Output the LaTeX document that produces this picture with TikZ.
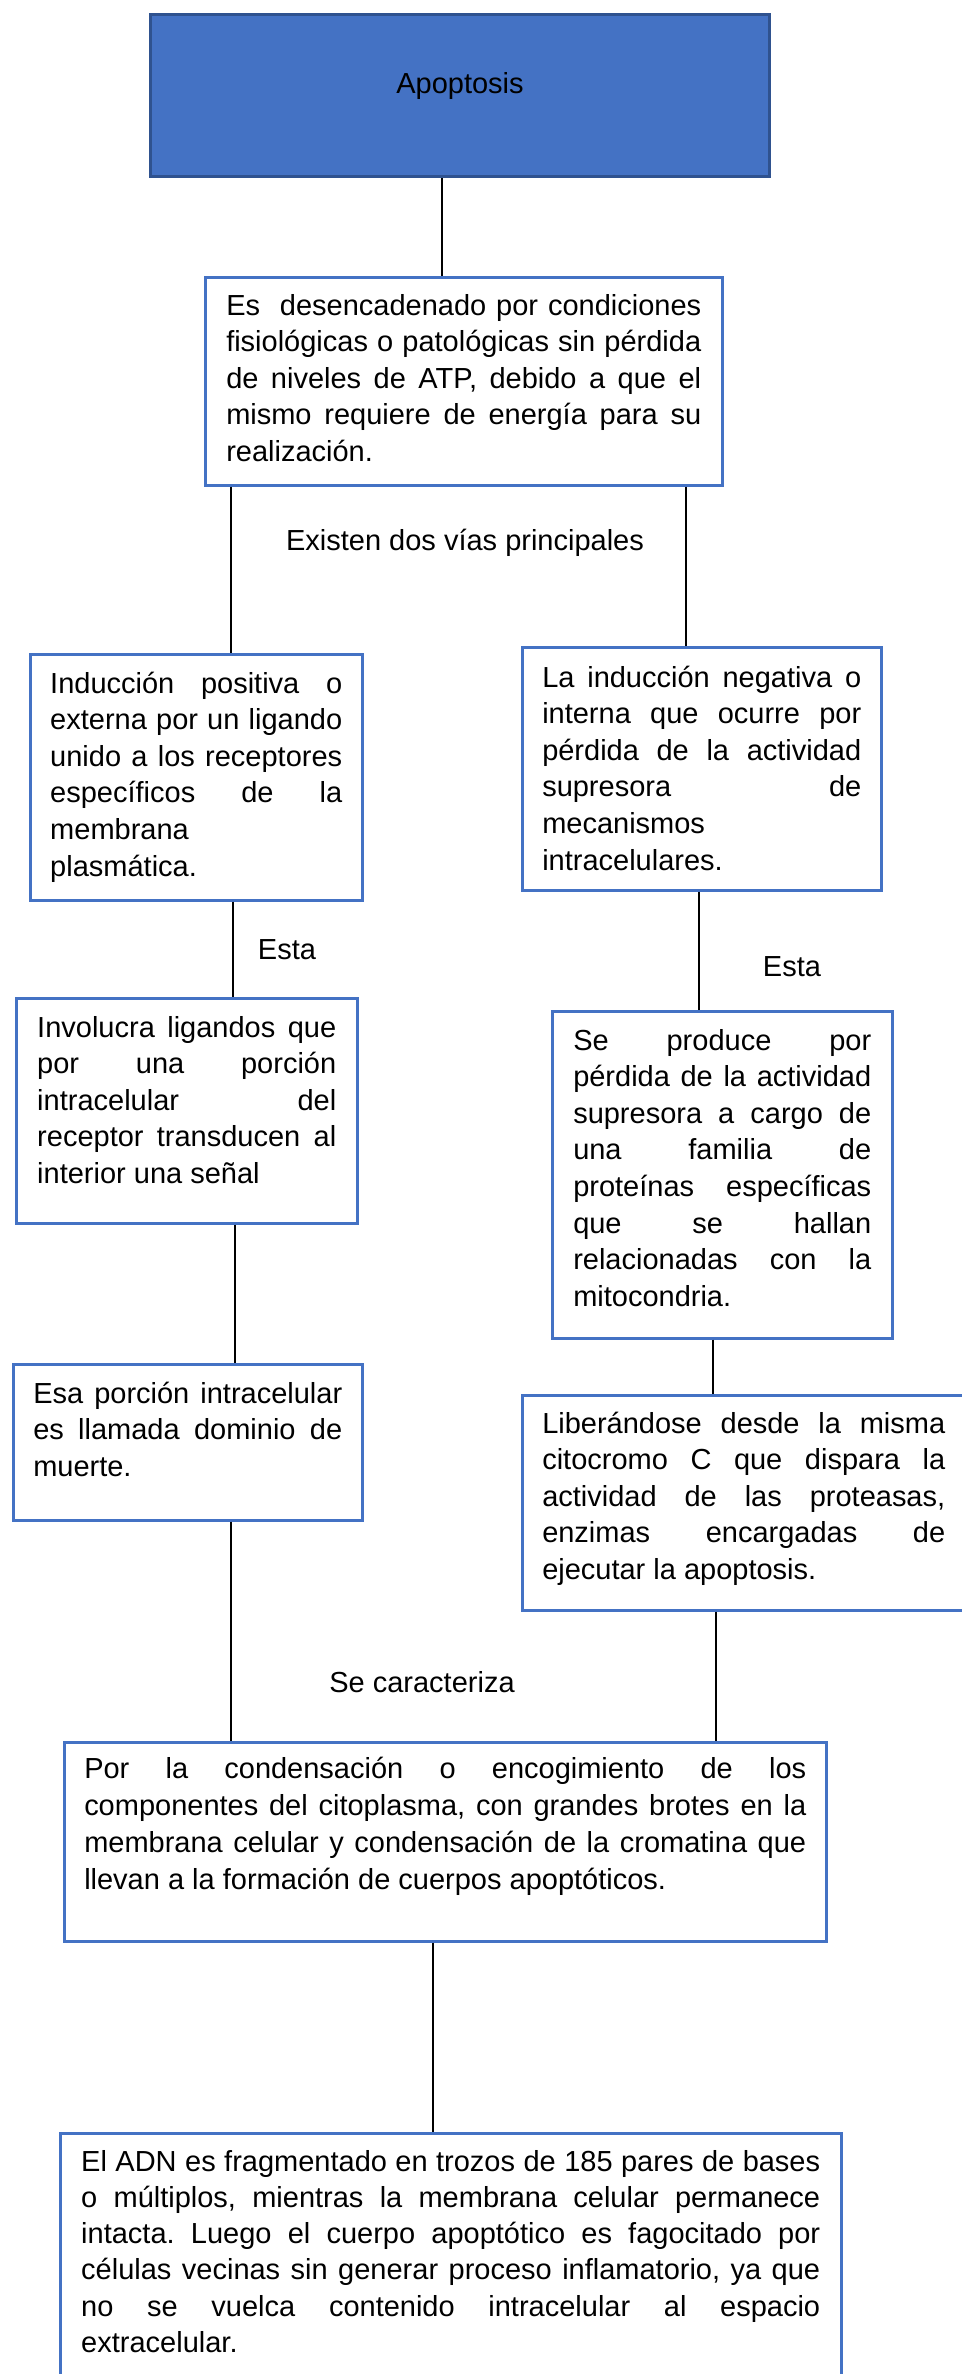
\documentclass[tikz,border=0pt]{standalone}
\usepackage{fontspec}
\setmainfont{Liberation Sans}
\frenchspacing
\definecolor{boxblue}{HTML}{4472C4}
\definecolor{boxedge}{HTML}{2F528F}
\begin{document}
\begin{tikzpicture}[
    connector/.style={draw, black, line width=0.03cm},
    titlebox/.style={rectangle, draw=boxedge, fill=boxblue, line width=0.06cm,
        inner xsep=0pt, inner ysep=0pt, align=center, anchor=north west,
        font=\fontsize{16.5}{20.8}\selectfont},
    infobox/.style={rectangle, draw=boxblue, line width=0.05cm,
        inner xsep=0.4cm, inner ysep=0pt, align=justify, anchor=north west,
        font=\fontsize{16.5}{20.8}\selectfont},
    linktext/.style={inner sep=0pt, font=\fontsize{16.5}{20.8}\selectfont}
]
\useasboundingbox (0,0) rectangle (19.22,-47.48);

\node (Apoptosis) [titlebox, text width=12.38cm, text height=1.58cm, text depth=1.66cm]
  at (2.98,-0.26) {Apoptosis};

\node (Causa) [infobox, inner xsep=0.42cm, text width=9.5cm, text height=0.76cm, text depth=3.4cm]
  at (4.08,-5.52) {Es\ \ desencadenado por condiciones\linebreak
  fisiológicas o patológicas sin pérdida\linebreak
  de niveles de ATP, debido a que el\linebreak
  mismo requiere de energía para su\linebreak
  realización.};

\node (Vias) [linktext] at (9.3,-10.86) {Existen dos vías principales};

\node (Induccion01) [infobox, text width=5.84cm, text height=0.78cm, text depth=4.14cm]
  at (0.58,-13.06) {Inducción positiva o\linebreak
  externa por un ligando\linebreak
  unido a los receptores\linebreak
  específicos de la\linebreak
  membrana\linebreak
  plasmática.};

\node (Induccion02) [infobox, text width=6.38cm, text height=0.8cm, text depth=4.06cm]
  at (10.42,-12.92) {La inducción negativa o\linebreak
  interna que ocurre por\linebreak
  pérdida de la actividad\linebreak
  supresora de\linebreak
  mecanismos\linebreak
  intracelulares.};

\node (Esta01) [linktext] at (5.74,-19) {Esta};
\node (Esta02) [linktext] at (15.84,-19.34) {Esta};

\node (Involucra) [infobox, inner xsep=0.42cm, text width=5.98cm, text height=0.78cm, text depth=3.72cm]
  at (0.3,-19.94) {Involucra ligandos que\linebreak
  por una porción\linebreak
  intracelular del\linebreak
  receptor transducen al\linebreak
  interior una señal};

\node (SeProduce) [infobox, inner xsep=0.42cm, text width=5.96cm, text height=0.78cm, text depth=5.76cm]
  at (11.02,-20.2) {Se produce por\linebreak
  pérdida de la actividad\linebreak
  supresora a cargo de\linebreak
  una familia de\linebreak
  proteínas específicas\linebreak
  que se hallan\linebreak
  relacionadas con la\linebreak
  mitocondria.};

\node (EsaPorcion) [infobox, text width=6.18cm, text height=0.78cm, text depth=2.34cm]
  at (0.24,-27.26) {Esa porción intracelular\linebreak
  es llamada dominio de\linebreak
  muerte.};

\node (Liberandose) [infobox, text width=8.06cm, text height=0.76cm, text depth=3.54cm]
  at (10.42,-27.88) {Liberándose desde la misma\linebreak
  citocromo C que dispara la\linebreak
  actividad de las proteasas,\linebreak
  enzimas encargadas de\linebreak
  ejecutar la apoptosis.};

\node (Caracteriza) [linktext] at (8.44,-33.64) {Se caracteriza};

\node (Condensacion) [infobox, text width=14.44cm, text height=0.72cm, text depth=3.26cm,
  font=\fontsize{16.5}{21.1}\selectfont]
  at (1.26,-34.82) {Por la condensación o encogimiento de los\linebreak
  componentes del citoplasma, con grandes brotes en la\linebreak
  membrana celular y condensación de la cromatina que\linebreak
  llevan a la formación de cuerpos apoptóticos.};

\node (ADN) [infobox, inner xsep=0.42cm, text width=14.78cm, text height=0.76cm, text depth=4.7cm,
  font=\fontsize{16.5}{20.6}\selectfont]
  at (1.18,-42.64) {El ADN es fragmentado en trozos de 185 pares de bases\linebreak
  o múltiplos, mientras la membrana celular permanece\linebreak
  intacta. Luego el cuerpo apoptótico es fagocitado por\linebreak
  células vecinas sin generar proceso inflamatorio, ya que\linebreak
  no se vuelca contenido intracelular al espacio\linebreak
  extracelular.};

\draw [connector] (Apoptosis.south -| 8.84,0) -- (Causa.north -| 8.84,0);
\draw [connector] (Causa.south -| 4.62,0) -- (Induccion01.north -| 4.62,0);
\draw [connector] (Causa.south -| 13.72,0) -- (Induccion02.north -| 13.72,0);
\draw [connector] (Induccion01.south -| 4.66,0) -- (Involucra.north -| 4.66,0);
\draw [connector] (Induccion02.south -| 13.98,0) -- (SeProduce.north -| 13.98,0);
\draw [connector] (Involucra.south -| 4.7,0) -- (EsaPorcion.north -| 4.7,0);
\draw [connector] (SeProduce.south -| 14.26,0) -- (Liberandose.north -| 14.26,0);
\draw [connector] (EsaPorcion.south -| 4.62,0) -- (Condensacion.north -| 4.62,0);
\draw [connector] (Liberandose.south -| 14.32,0) -- (Condensacion.north -| 14.32,0);
\draw [connector] (Condensacion.south -| 8.66,0) -- (ADN.north -| 8.66,0);
\end{tikzpicture}
\end{document}
